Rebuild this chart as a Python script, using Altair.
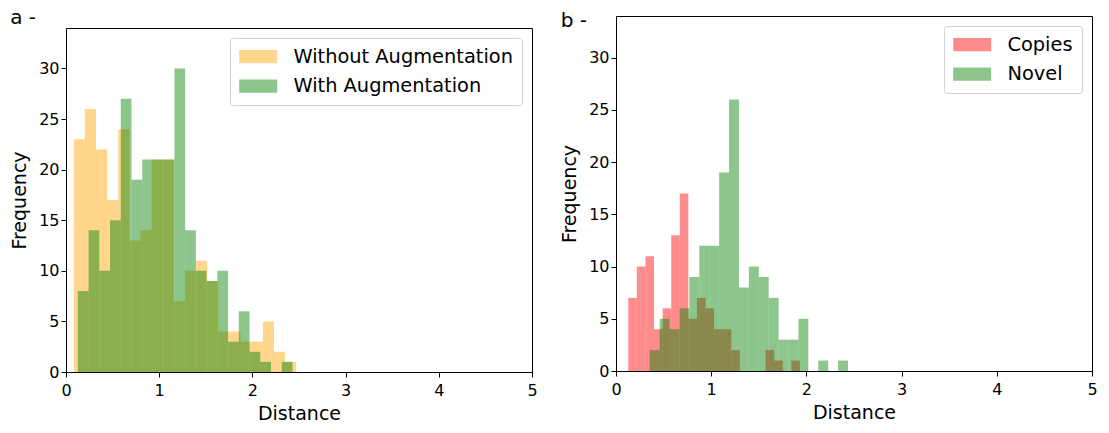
import altair as alt
import numpy as np
import pandas as pd

FONT = "DejaVu Sans"

# ---- Panel a: counts per bin (20 bins each) and the bin range of each series
a_names = ["Without Augmentation", "With Augmentation"]
a_colors = ["#ffa500", "#008000"]
a_without_counts = [23, 26, 22, 17, 24, 13, 14, 21, 21, 7, 10, 11, 9, 4, 4, 3, 3, 5, 2, 1]
a_without_range = [0.083, 2.47]
a_with_counts = [8, 14, 10, 15, 27, 19, 21, 21, 21, 30, 14, 10, 9, 10, 3, 6, 2, 1, 0, 1]
a_with_range = [0.127, 2.43]

# ---- Panel b
b_names = ["Copies", "Novel"]
b_colors = ["#ff0000", "#008000"]
b_copies_counts = [7, 10, 11, 4, 6, 13, 17, 5, 7, 6, 4, 4, 2, 0, 0, 0, 2, 1, 0, 1]
b_copies_range = [0.129, 1.932]
b_novel_counts = [2, 5, 4, 6, 9, 12, 12, 19, 26, 8, 10, 9, 7, 3, 3, 5, 0, 1, 0, 1]
b_novel_range = [0.354, 2.437]

x_ticks = [0, 1, 2, 3, 4, 5]
y_ticks = [0, 5, 10, 15, 20, 25, 30]
x_domain = [0, 5]
y_domain = [0, 34]


def hist_frame(name, counts, rng):
    edges = np.linspace(rng[0], rng[1], len(counts) + 1)
    return pd.DataFrame({"series": name, "x0": edges[:-1], "x1": edges[1:], "count": counts})


def panel_title(label):
    return alt.TitleParams(
        label, anchor="start", frame="bounds", fontSize=20,
        fontWeight="normal", font=FONT, color="black", offset=-15,
    )


def panel(df, names, colors, width, height):
    return (
        alt.Chart(df)
        .mark_bar(opacity=0.45)
        .encode(
            x=alt.X(
                "x0:Q",
                scale=alt.Scale(domain=x_domain, nice=False, zero=False),
                axis=alt.Axis(values=x_ticks, title="Distance", labelFlush=False,
                              format="d"),
            ),
            x2="x1:Q",
            y=alt.Y(
                "count:Q",
                scale=alt.Scale(domain=y_domain, nice=False),
                axis=alt.Axis(values=y_ticks, title="Frequency", format="d"),
            ),
            y2=alt.datum(0),
            color=alt.Color(
                "series:N",
                scale=alt.Scale(domain=names, range=colors),
                legend=alt.Legend(
                    title=None, orient="top-right", offset=10,
                    labelFontSize=19.4, labelFont=FONT, labelColor="black",
                    labelLimit=400, labelOffset=35,
                    symbolType="M-1,-0.7H3V0.7H-1Z", symbolSize=361,
                    symbolOpacity=0.45, symbolStrokeWidth=0,
                    padding=9, rowPadding=8.5,
                    strokeColor="#d0d0d0", fillColor="white", cornerRadius=3,
                ),
            ),
        )
        .properties(width=width, height=height)
    )


left_df = pd.concat([
    hist_frame(a_names[0], a_without_counts, a_without_range),
    hist_frame(a_names[1], a_with_counts, a_with_range),
], ignore_index=True)

right_df = pd.concat([
    hist_frame(b_names[0], b_copies_counts, b_copies_range),
    hist_frame(b_names[1], b_novel_counts, b_novel_range),
], ignore_index=True)

# invisible strip that lowers panel a's frame below panel b's
spacer = (
    alt.Chart(pd.DataFrame({"v": [0]}))
    .mark_point(opacity=0)
    .encode(x=alt.value(0), y=alt.value(0))
    .properties(width=466, height=11, view=alt.ViewBackground(strokeWidth=0, strokeOpacity=0))
)

left = (
    alt.vconcat(
        spacer, panel(left_df, a_names, a_colors, 466, 344),
        spacing=0, title=panel_title("a -"),
    )
    .resolve_scale(color="independent")
    .resolve_legend(color="independent")
)
right = panel(right_df, b_names, b_colors, 476, 355).properties(title=panel_title("b -"))

chart = (
    alt.hconcat(left, right, spacing=22)
    .resolve_scale(color="independent")
    .resolve_legend(color="independent")
    .properties(padding={"left": 2, "top": 0, "right": 0, "bottom": 0})
    .configure(font=FONT)
    .configure_view(stroke="black", strokeWidth=1)
    .configure_axis(
        grid=False, domain=False,
        tickColor="black", tickSize=5, tickWidth=1,
        labelFontSize=16, labelColor="black", labelFont=FONT,
        titleFontSize=19, titleColor="black", titleFont=FONT, titleFontWeight="normal",
    )
    .configure_axisX(labelPadding=5, titlePadding=6)
    .configure_axisY(labelPadding=2, titlePadding=9)
)

chart.save("out.html", embed_options={"renderer": "svg", "actions": False})
